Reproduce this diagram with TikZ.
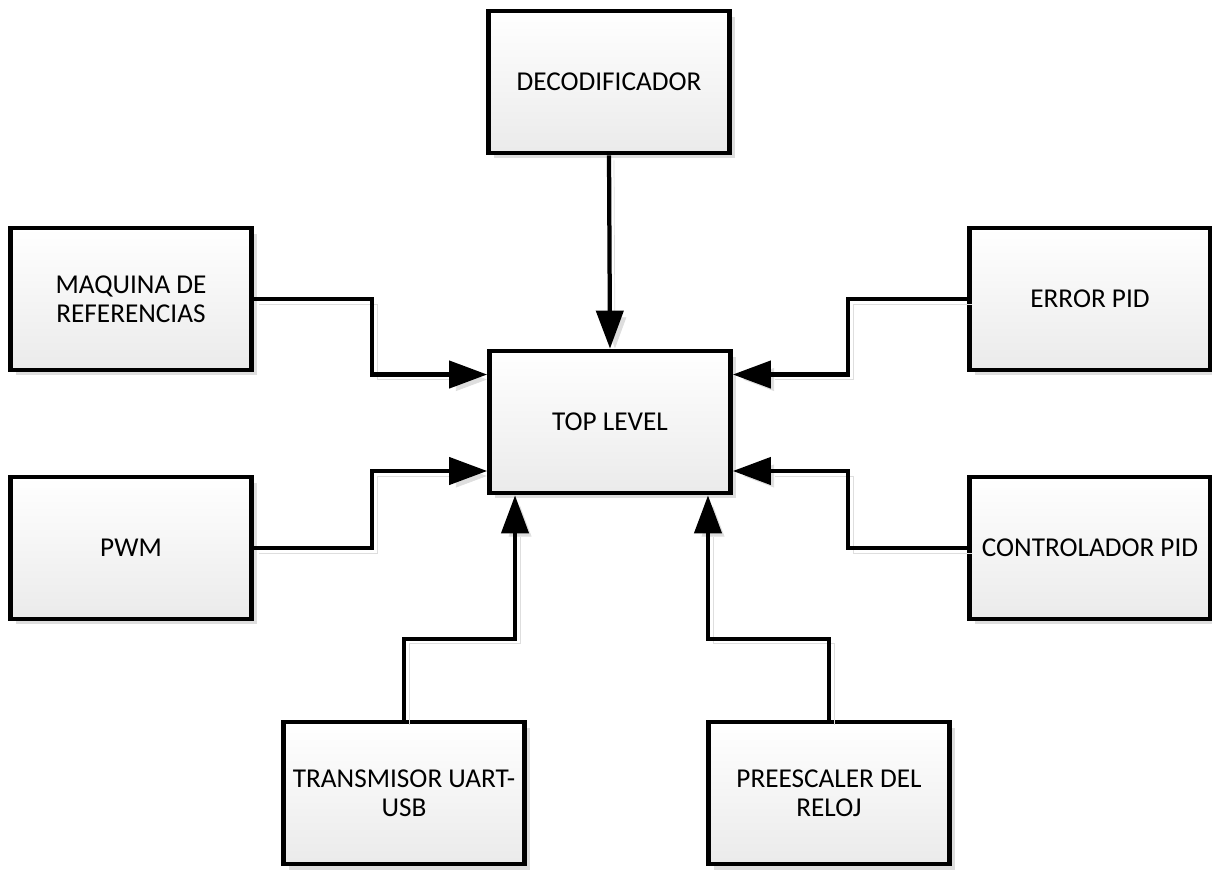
\documentclass[tikz,border=0pt]{standalone}
\usepackage{fontspec}
\setmainfont{Carlito}
\usetikzlibrary{arrows.meta,shadows}

\begin{document}
\begin{tikzpicture}[
    x=0.02cm, y=-0.02cm,
    block/.style={draw, line width=0.095cm, minimum width=4.82cm, minimum height=2.84cm,
        align=center, font=\fontsize{15.5}{16.5}\selectfont,
        top color=white, bottom color=black!8,
        drop shadow={shadow xshift=0.11cm, shadow yshift=-0.11cm, fill=black!13, opacity=1}},
    wire/.style={line width=0.085cm, -{Triangle[length=0.76cm,width=0.54cm]},
        preaction={draw=black!13, transform canvas={shift={(0.1cm,-0.1cm)}}}}
]
  \useasboundingbox (0,0) rectangle (1212,869);

  \node[block] (top)  at (610,422) {TOP LEVEL};
  \node[block] (dec)  at (609,82)  {DECODIFICADOR};
  \node[block] (maq)  at (131,299) {MAQUINA DE\\REFERENCIAS};
  \node[block] (pwm)  at (131,548) {PWM};
  \node[block] (err)  at (1090,299) {ERROR PID};
  \node[block] (ctrl) at (1090,548) {CONTROLADOR PID};
  \node[block] (tx)   at (404,793) {TRANSMISOR UART-\\USB};
  \node[block] (pre)  at (829,793) {PREESCALER DEL\\RELOJ};

  % Inputs into the top level
  \draw[wire] (dec.south) -- (top.north);
  \draw[wire] (maq.east) -- ++(118,0) |- ([yshift=0.95cm]top.west);
  \draw[wire] (pwm.east) -- ++(118,0) |- ([yshift=-0.98cm]top.west);
  \draw[wire] (err.west) -- ++(-119,0) |- ([yshift=0.95cm]top.east);
  \draw[wire] (ctrl.west) -- ++(-119,0) |- ([yshift=-0.98cm]top.east);
  \draw[wire] (tx.north) -- ++(0,-81) -| ([xshift=-1.9cm]top.south);
  \draw[wire] (pre.north) -- ++(0,-81) -| ([xshift=1.96cm]top.south);
\end{tikzpicture}
\end{document}
